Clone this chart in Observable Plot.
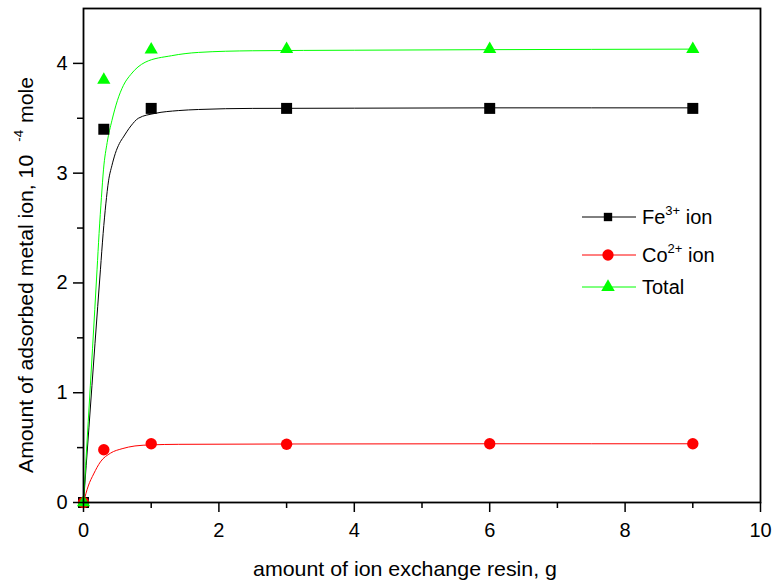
<!DOCTYPE html>
<html>
<head>
<meta charset="utf-8">
<script src="https://cdn.jsdelivr.net/npm/d3@7"></script>
<script src="https://cdn.jsdelivr.net/npm/@observablehq/plot@0.6"></script>
<style>
  html, body { margin: 0; padding: 0; background: white; }
  #chart { position: relative; width: 775px; height: 588px; }
</style>
</head>
<body>
<div id="chart"></div>
<script>
// ---- data ----
const resin = [0, 0.3, 1, 3, 6, 9];
const feIon = [0, 3.40, 3.59, 3.59, 3.59, 3.59];
const coIon = [0, 0.48, 0.535, 0.53, 0.535, 0.535];
const totalIon = [0, 3.85, 4.125, 4.13, 4.13, 4.13];

// fitted curves
const feFitX = [0, 0.08, 0.17, 0.25, 0.29, 0.33, 0.37, 0.42, 0.47, 0.53, 0.59, 0.7, 0.81, 1.06, 1.4, 1.7, 2.5, 4, 6, 9];
const feFitY = [0, 0.68, 1.45, 2.12, 2.45, 2.72, 2.93, 3.07, 3.18, 3.27, 3.33, 3.43, 3.50, 3.545, 3.57, 3.58, 3.59, 3.592, 3.595, 3.595];
const coFitX = [0, 0.07, 0.15, 0.25, 0.4, 0.57, 0.76, 1.0, 1.4, 3, 6, 9];
const coFitY = [0, 0.15, 0.26, 0.37, 0.45, 0.49, 0.515, 0.525, 0.53, 0.533, 0.535, 0.535];
const totFitX = [0, 0.07, 0.133, 0.2, 0.23, 0.265, 0.295, 0.35, 0.42, 0.5, 0.59, 0.7, 0.91, 1.3, 1.7, 2.5, 4, 6, 9];
const totFitY = [0, 0.74, 1.40, 2.12, 2.45, 2.78, 3.03, 3.28, 3.48, 3.66, 3.80, 3.90, 4.01, 4.07, 4.10, 4.115, 4.12, 4.125, 4.13];

const xMajorTicks = [0, 2, 4, 6, 8, 10];
const xMinorTicks = [1, 3, 5, 7, 9];
const yMajorTicks = [0, 1, 2, 3, 4];
const yMinorTicks = [0.5, 1.5, 2.5, 3.5];

const seriesNames = ["Fe", "Co", "Total"];
const seriesSup = ["3+", "2+", ""];
const seriesRest = [" ion", " ion", ""];
const seriesColors = ["#000000", "#ff0000", "#00ff00"];
const seriesSymbols = ["square", "circle", "triangle"];

const xLabel = "amount of ion exchange resin, g";
const yLabelParts = ["Amount of adsorbed metal ion, 10", "-4", "mole"];

// ---- build tables ----
const pts = (ys) => resin.map((x, i) => ({x, y: ys[i]}));
const fit = (xs, ys) => xs.map((x, i) => ({x, y: ys[i]}));
const seriesPts = [pts(feIon), pts(coIon), pts(totalIon)];
const seriesFit = [fit(feFitX, feFitY), fit(coFitX, coFitY), fit(totFitX, totFitY)];
const symR = [6.2, 5.7, 4.9];
const font = "'Liberation Sans', Arial, sans-serif";

const plot = Plot.plot({
  width: 775,
  height: 588,
  marginLeft: 83,
  marginRight: 15,
  marginTop: 8,
  marginBottom: 86,
  x: {domain: [0, 10]},
  y: {domain: [0, 4.5]},
  style: {fontFamily: font, fontSize: "20px", color: "black", background: "white", overflow: "visible"},
  marks: [
    ...seriesFit.map((d, i) => Plot.line(d, {x: "x", y: "y", stroke: seriesColors[i], strokeWidth: 1, curve: "monotone-x"})),
    ...seriesPts.map((d, i) => Plot.dot(d, {x: "x", y: "y", symbol: seriesSymbols[i], r: symR[i], fill: seriesColors[i], stroke: "none"})),
    Plot.axisX({ticks: xMajorTicks, tickSize: 10, tickPadding: 10, tickFormat: d => String(d), label: null, strokeWidth: 1.5, fontSize: 20}),
    Plot.axisX({ticks: xMinorTicks, tickSize: 6, tickFormat: () => "", label: null, strokeWidth: 1.5}),
    Plot.axisY({ticks: yMajorTicks, tickSize: 10, tickPadding: 6, tickFormat: d => String(d), label: null, strokeWidth: 1.5, fontSize: 20}),
    Plot.axisY({ticks: yMinorTicks, tickSize: 6, tickFormat: () => "", label: null, strokeWidth: 1.5}),
    Plot.frame({stroke: "black", strokeWidth: 1.8})
  ]
});

document.getElementById("chart").appendChild(plot);

const svg = d3.select(plot);

// x label
svg.append("text")
  .attr("x", 405).attr("y", 576)
  .attr("text-anchor", "middle")
  .attr("font-family", font).attr("font-size", 21).attr("fill", "black")
  .attr("textLength", 304).attr("lengthAdjust", "spacingAndGlyphs")
  .text(xLabel);

// y label with superscript
const yl = svg.append("text")
  .attr("transform", "translate(33,275) rotate(-90)")
  .attr("text-anchor", "middle")
  .attr("font-family", font).attr("font-size", 21).attr("fill", "black")
  .attr("textLength", 396).attr("lengthAdjust", "spacingAndGlyphs");
yl.append("tspan").text(yLabelParts[0]);
yl.append("tspan").attr("dx", 13).attr("dy", -10).attr("font-size", 13).text(yLabelParts[1]);
yl.append("tspan").attr("dx", 7).attr("dy", 10).text(yLabelParts[2]);

// legend
const legRows = [217, 255, 287];
const leg = svg.append("g").attr("font-family", font).attr("font-size", 20).attr("text-anchor", "start");
const d3sym = {square: d3.symbolSquare, circle: d3.symbolCircle, triangle: d3.symbolTriangle};
const legSize = [70, 100, 80];
seriesNames.forEach((name, i) => {
  const y = legRows[i];
  leg.append("line").attr("x1", 582).attr("x2", 636).attr("y1", y).attr("y2", y)
    .attr("stroke", seriesColors[i]).attr("stroke-width", 1);
  leg.append("path").attr("transform", `translate(608,${y})`)
    .attr("d", d3.symbol(d3sym[seriesSymbols[i]], legSize[i])())
    .attr("fill", seriesColors[i]);
  const t = leg.append("text").attr("x", 642).attr("y", y + 7).attr("fill", "black");
  t.append("tspan").text(name);
  if (seriesSup[i]) {
    t.append("tspan").attr("dy", -9).attr("font-size", 13).text(seriesSup[i]);
    t.append("tspan").attr("dy", 9).text(seriesRest[i]);
  }
});
</script>
</body>
</html>
